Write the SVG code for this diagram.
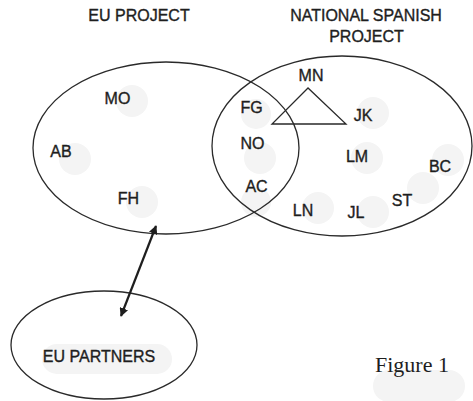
<svg xmlns="http://www.w3.org/2000/svg" width="473" height="401" viewBox="0 0 473 401">
<defs>
<style>
.t{font-family:"Liberation Sans",Arial,sans-serif;font-size:16px;fill:#1e1e1e;stroke:#1e1e1e;stroke-width:0.35;text-anchor:middle}
.e{fill:none;stroke:#2a2a2a;stroke-width:1.3}
.b{fill:#f4f4f4}
.fig{font-family:"Liberation Serif","Times New Roman",serif;font-size:22px;fill:#1e1e1e}
</style>
<marker id="ah" viewBox="0 0 10 10" refX="9" refY="5" markerWidth="4" markerHeight="4" orient="auto-start-reverse" markerUnits="strokeWidth">
<path d="M0,0 L10,5 L0,10 z" fill="#1e1e1e"/>
</marker>
</defs>
<rect width="473" height="401" fill="#ffffff"/>
<g id="blobs">
<circle class="b" cx="132" cy="101" r="16"/>
<circle class="b" cx="75" cy="159" r="16"/>
<circle class="b" cx="142" cy="202" r="16"/>
<circle class="b" cx="256" cy="114" r="15"/>
<circle class="b" cx="260" cy="158" r="16"/>
<circle class="b" cx="256" cy="202" r="15"/>
<circle class="b" cx="373" cy="113" r="16"/>
<circle class="b" cx="367" cy="158" r="16"/>
<circle class="b" cx="448" cy="160" r="16"/>
<circle class="b" cx="423" cy="188" r="16"/>
<circle class="b" cx="318" cy="208" r="16"/>
<circle class="b" cx="373" cy="212" r="16"/>
<rect class="b" x="42" y="344" width="130" height="30" rx="15"/>
<rect class="b" x="373" y="370" width="92" height="32" rx="16"/>
</g>
<g id="eu-project">
<ellipse class="e" cx="166" cy="148" rx="133" ry="86"/>
<text class="t" x="139" y="21">EU PROJECT</text>
</g>
<g id="national-spanish-project">
<ellipse class="e" cx="342" cy="146" rx="130" ry="90"/>
<text class="t" x="366" y="21">NATIONAL SPANISH</text>
<text class="t" x="366.5" y="42">PROJECT</text>
</g>
<g id="triangle">
<polygon class="e" points="308,88 272,124 346,124"/>
</g>
<g id="eu-partners">
<ellipse class="e" cx="104" cy="345" rx="93" ry="54"/>
<text class="t" x="99" y="362">EU PARTNERS</text>
</g>
<g id="members">
<text class="t" x="117.5" y="104">MO</text>
<text class="t" x="61" y="157">AB</text>
<text class="t" x="128.5" y="204">FH</text>
<text class="t" x="251.5" y="113">FG</text>
<text class="t" x="252.5" y="149">NO</text>
<text class="t" x="256.5" y="192">AC</text>
<text class="t" x="311" y="81">MN</text>
<text class="t" x="363" y="121">JK</text>
<text class="t" x="357" y="162">LM</text>
<text class="t" x="440" y="172">BC</text>
<text class="t" x="402" y="206">ST</text>
<text class="t" x="303" y="216">LN</text>
<text class="t" x="356" y="218">JL</text>
</g>
<g id="connectors">
<line x1="156" y1="226" x2="121" y2="316" stroke="#1e1e1e" stroke-width="2.2" marker-start="url(#ah)" marker-end="url(#ah)"/>
</g>
<text class="fig" x="375" y="372">Figure 1</text>
</svg>
